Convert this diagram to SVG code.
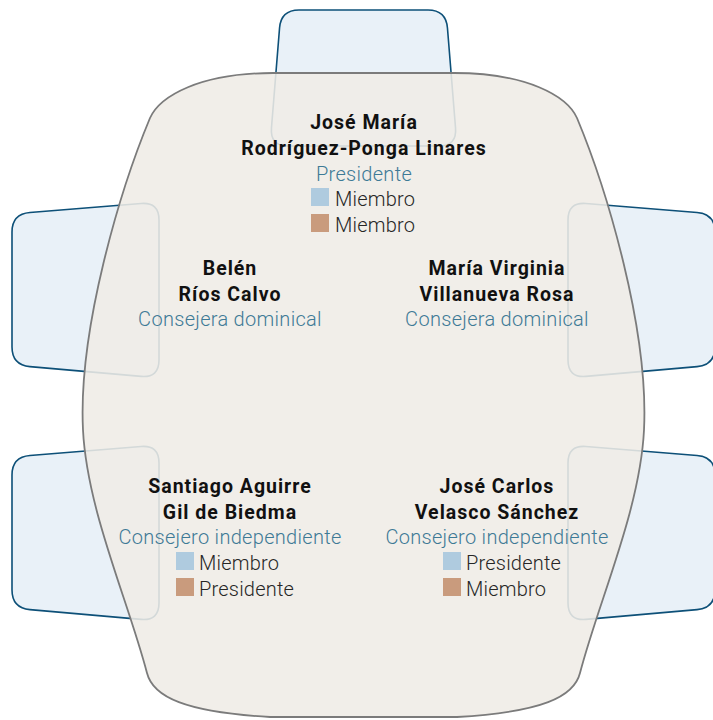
<svg xmlns="http://www.w3.org/2000/svg" xmlns:xlink="http://www.w3.org/1999/xlink" width="713" height="720" viewBox="0 0 713 720">
<style>
.chair{fill:#e9f1f8;stroke:#0d5078;stroke-width:1.6}
.table{fill:#efece6;fill-opacity:0.88;stroke:#7b7b7b;stroke-width:1.8}
.name{font-family:Roboto,"Liberation Sans",sans-serif;font-weight:700;font-size:19.5px;letter-spacing:1px;fill:#111111;text-anchor:middle}
.role{font-family:Roboto,"Liberation Sans",sans-serif;font-weight:300;font-size:20px;letter-spacing:0.3px;fill:#3e7a96;text-anchor:middle}
.leg{font-family:Roboto,"Liberation Sans",sans-serif;font-weight:300;font-size:20px;letter-spacing:0.2px;fill:#262626}
.sqm{fill:#afcbdf}
.sqp{fill:#c99b7d}
</style>
<defs>
<path id="sideChair" d="M 29.94,212.53 L 141.06,203.47 Q 159,202 159,220 L 159,360 Q 159,378 141.07,376.42 L 29.93,366.58 Q 12,365 12,347 L 12,232 Q 12,214 29.94,212.53 Z"/>
</defs>
<g id="chairs">
<path id="chair-top" class="chair" d="M 299,10 L 428,10 Q 446,10 447.45,27.94 L 455.55,128.06 Q 457,146 439,146 L 288,146 Q 270,146 271.45,128.06 L 279.55,27.94 Q 281,10 299,10 Z"/>
<use id="chair-left-top" class="chair" xlink:href="#sideChair"/>
<use id="chair-left-bottom" class="chair" xlink:href="#sideChair" transform="translate(0,243)"/>
<use id="chair-right-top" class="chair" xlink:href="#sideChair" transform="translate(727,0) scale(-1,1)"/>
<use id="chair-right-bottom" class="chair" xlink:href="#sideChair" transform="translate(727,243) scale(-1,1)"/>
</g>
<path id="table" class="table" d="M 273,73 L 454,73 C 527,73 567,96 577,118 C 607,190 649,330 644,430 C 640,510 599,600 580,673 C 574,697 542,712 457,717 L 270,717 C 185,712 153,697 147,673 C 128,600 87,510 83,430 C 78,330 120,190 150,118 C 160,96 200,73 273,73 Z"/>
<g id="node-presidente">
<text class="name" x="364" y="129">José María</text>
<text class="name" x="364" y="155">Rodríguez-Ponga Linares</text>
<text class="role" x="364" y="181">Presidente</text>
<rect class="sqm" x="311" y="188" width="18" height="18"/>
<text class="leg" x="335" y="206">Miembro</text>
<rect class="sqp" x="311" y="214" width="18" height="18"/>
<text class="leg" x="335" y="232">Miembro</text>
</g>
<g id="node-belen">
<text class="name" x="230" y="275">Belén</text>
<text class="name" x="230" y="301">Ríos Calvo</text>
<text class="role" x="230" y="326">Consejera dominical</text>
</g>
<g id="node-maria-virginia">
<text class="name" x="497" y="275">María Virginia</text>
<text class="name" x="497" y="301">Villanueva Rosa</text>
<text class="role" x="497" y="326">Consejera dominical</text>
</g>
<g id="node-santiago">
<text class="name" x="230" y="493">Santiago Aguirre</text>
<text class="name" x="230" y="519">Gil de Biedma</text>
<text class="role" x="230" y="544">Consejero independiente</text>
<rect class="sqm" x="176" y="552" width="18" height="18"/>
<text class="leg" x="199" y="570">Miembro</text>
<rect class="sqp" x="176" y="578" width="18" height="18"/>
<text class="leg" x="199" y="596">Presidente</text>
</g>
<g id="node-jose-carlos">
<text class="name" x="497" y="493">José Carlos</text>
<text class="name" x="497" y="519">Velasco Sánchez</text>
<text class="role" x="497" y="544">Consejero independiente</text>
<rect class="sqm" x="443" y="552" width="18" height="18"/>
<text class="leg" x="466" y="570">Presidente</text>
<rect class="sqp" x="443" y="578" width="18" height="18"/>
<text class="leg" x="466" y="596">Miembro</text>
</g>
</svg>
